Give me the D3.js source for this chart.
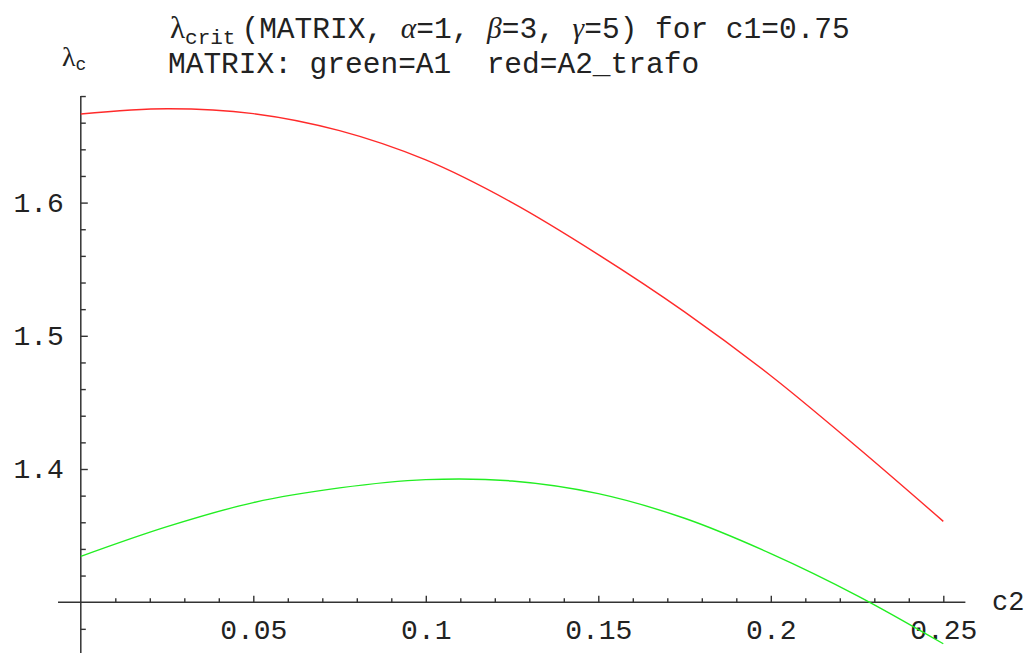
<!DOCTYPE html>
<html>
<head>
<meta charset="utf-8">
<script src="https://cdn.jsdelivr.net/npm/d3@7"></script>
<style>
  body { margin: 0; background: #fff; }
  svg { display: block; }
  text { fill: #222; }
</style>
</head>
<body>
<svg width="1028" height="653"></svg>
<script>
// values, c2 from 0 to 0.25
const c2Values = [0, 0.025, 0.05, 0.075, 0.1, 0.125, 0.15, 0.175, 0.2, 0.225, 0.25];
const redA2Trafo = [1.6665, 1.6705, 1.6668, 1.654, 1.632, 1.6, 1.561, 1.518, 1.47, 1.4165, 1.3607];
const greenA1 = [1.3344, 1.3567, 1.3748, 1.3858, 1.392, 1.391, 1.3815, 1.363, 1.3365, 1.305, 1.2688];

const xTickValues = [0.05, 0.1, 0.15, 0.2, 0.25];
const yTickValues = [1.4, 1.5, 1.6];

const mono = "'Liberation Mono', 'Courier New', monospace";
const serif = "'Liberation Serif', 'DejaVu Serif', serif";

const svg = d3.select("svg");

const x = d3.scaleLinear().domain([0, 0.25]).range([80.8, 943.3]);
const y = d3.scaleLinear().domain([1.3, 1.6]).range([602.2, 202.6]);

const axisColor = "#333";

// axis lines (Mathematica style, crossing at (0, 1.3))
svg.append("line")
  .attr("x1", x(-0.0066)).attr("x2", x(0.2564))
  .attr("y1", y(1.3)).attr("y2", y(1.3))
  .attr("stroke", axisColor).attr("stroke-width", 1.5);
svg.append("line")
  .attr("x1", x(0)).attr("x2", x(0))
  .attr("y1", y(1.68)).attr("y2", 653)
  .attr("stroke", axisColor).attr("stroke-width", 1.5);

// minor ticks
const xMinor = d3.range(1, 26).map((i) => i / 100).filter((v) => Math.round(v * 100) % 5 !== 0);
const yMinor = d3.range(64, 85).map((i) => i / 50).filter((v) => Math.round(v * 50) % 5 !== 0);

const gx = svg.append("g").attr("transform", `translate(0,${y(1.3)})`);
gx.append("g")
  .call(d3.axisBottom(x).tickValues(xMinor).tickSize(-4).tickFormat(""))
  .call((g) => g.select(".domain").remove());
gx.append("g")
  .call(d3.axisBottom(x).tickValues(xTickValues).tickSize(-6.5).tickPadding(17)
    .tickFormat(d3.format("~g")))
  .call((g) => g.select(".domain").remove());

const gy = svg.append("g").attr("transform", `translate(${x(0)},0)`);
gy.append("g")
  .call(d3.axisLeft(y).tickValues(yMinor).tickSize(-5).tickFormat(""))
  .call((g) => g.select(".domain").remove());
gy.append("g")
  .call(d3.axisLeft(y).tickValues(yTickValues).tickSize(-7).tickPadding(17)
    .tickFormat(d3.format("~g")))
  .call((g) => g.select(".domain").remove());

svg.selectAll(".tick line").attr("stroke", axisColor).attr("stroke-width", 1.4);
svg.selectAll(".tick text")
  .attr("font-family", mono)
  .attr("font-size", 28)
  .attr("fill", "#222");

// curves
const line = d3.line()
  .x((d) => x(d[0]))
  .y((d) => y(d[1]))
  .curve(d3.curveCatmullRom.alpha(0.5));

svg.append("path")
  .datum(c2Values.map((c, i) => [c, redA2Trafo[i]]))
  .attr("fill", "none")
  .attr("stroke", "#ff2a2a")
  .attr("stroke-width", 1.4)
  .attr("d", line);

svg.append("path")
  .datum(c2Values.map((c, i) => [c, greenA1[i]]))
  .attr("fill", "none")
  .attr("stroke", "#22ee22")
  .attr("stroke-width", 1.4)
  .attr("d", line);

// titles
const t1 = svg.append("text")
  .attr("x", 170).attr("y", 38)
  .attr("font-family", mono).attr("font-size", 29.5);
t1.append("tspan").attr("font-family", serif).attr("font-size", 31).text("λ");
t1.append("tspan").attr("font-size", 21).attr("dy", 6).text("crit");
t1.append("tspan").attr("dy", -6).attr("dx", 6).text("(MATRIX, ");
t1.append("tspan").attr("font-family", serif).attr("font-style", "italic").text("α");
t1.append("tspan").text("=1, ");
t1.append("tspan").attr("font-family", serif).attr("font-style", "italic").text("β");
t1.append("tspan").text("=3, ");
t1.append("tspan").attr("font-family", serif).attr("font-style", "italic").text("γ");
t1.append("tspan").text("=5) for c1=0.75");

svg.append("text")
  .attr("x", 168).attr("y", 73)
  .attr("font-family", mono).attr("font-size", 29.5)
  .attr("xml:space", "preserve")
  .style("white-space", "pre")
  .text("MATRIX: green=A1  red=A2_trafo");

// axis labels
const yl = svg.append("text")
  .attr("x", 62).attr("y", 66)
  .attr("font-family", serif).attr("font-size", 28);
yl.append("tspan").text("λ");
yl.append("tspan").attr("font-family", mono).attr("font-size", 18).attr("dy", 4).text("c");

svg.append("text")
  .attr("x", 992).attr("y", 610)
  .attr("font-family", mono).attr("font-size", 27)
  .text("c2");
</script>
</body>
</html>
